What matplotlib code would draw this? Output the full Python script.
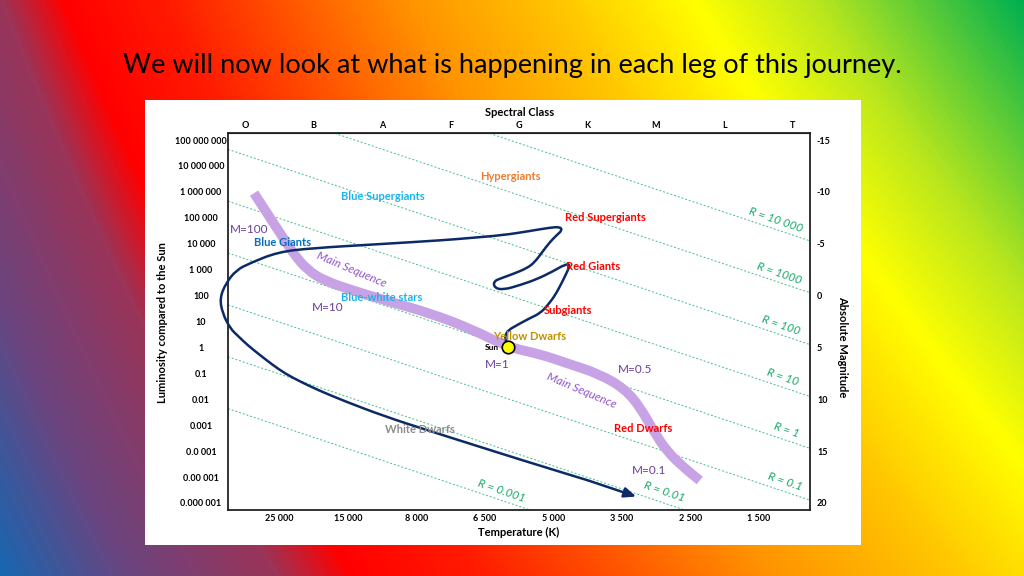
import numpy as np
import matplotlib
matplotlib.use('Agg')
import matplotlib.pyplot as plt
from matplotlib.colors import LinearSegmentedColormap
from matplotlib.patches import Rectangle, PathPatch
from matplotlib.path import Path

plt.rcParams['font.family'] = ['Lato', 'DejaVu Sans']

# --- data (x = spectral-class position, O=0 ... T=8; y = log10 of luminosity / L_sun) ---
spectral_classes = ['O', 'B', 'A', 'F', 'G', 'K', 'M', 'L', 'T']
temp_labels = ['25 000', '15 000', '8 000', '6 500', '5 000', '3 500', '2 500', '1 500']
lum_exponents = list(range(8, -7, -1))
lum_labels = ['100 000 000', '10 000 000', '1 000 000', '100 000', '10 000', '1 000',
              '100', '10', '1', '0.1', '0.01', '0.001', '0.0 001', '0.00 001', '0.000 001']
mag_ticks = [-15, -10, -5, 0, 5, 10, 15, 20]

ms_x = [0.13, 0.32, 0.51, 0.70, 0.91, 1.17, 1.56, 2.04, 2.70, 3.28, 3.84,
        4.31, 4.70, 5.18, 5.55, 5.77, 5.96, 6.16, 6.42, 6.64]
ms_logL = [5.95, 5.18, 4.41, 3.64, 2.98, 2.56, 2.21, 1.82, 1.32, 0.74, 0.01,
           -0.26, -0.61, -1.03, -1.61, -2.31, -3.20, -4.01, -4.66, -5.13]

track_x = [3.84, 3.80, 3.80, 3.84, 3.97, 4.16, 4.31, 4.42, 4.53, 4.63, 4.70, 4.75,
           4.67, 4.50, 4.26, 4.01, 3.77, 3.64, 3.63, 3.74, 3.91, 4.12, 4.23, 4.34,
           4.45, 4.55, 4.63, 4.60, 4.45, 4.16, 3.77, 3.28, 2.92, 1.94, 0.98, 0.48,
           0.07, -0.13, -0.28, -0.37, -0.33, -0.22, -0.10, 0.04, 0.22, 0.39, 0.58,
           0.80, 1.07, 1.46, 2.04, 2.67, 3.40, 4.06, 5.01, 5.71]
track_logL = [0.01, 0.28, 0.47, 0.66, 0.86, 1.13, 1.32, 1.63, 2.02, 2.52, 2.90, 3.20,
              3.20, 2.94, 2.63, 2.40, 2.22, 2.30, 2.55, 2.67, 2.83, 3.06, 3.29, 3.68,
              4.06, 4.33, 4.52, 4.65, 4.62, 4.49, 4.33, 4.22, 4.14, 3.98, 3.83, 3.68,
              3.25, 2.98, 2.48, 1.90, 1.32, 0.74, 0.43, 0.08, -0.30, -0.65, -1.00,
              -1.31, -1.65, -2.08, -2.66, -3.20, -3.81, -4.36, -5.13, -5.75]

radii = [10000, 1000, 100, 10, 1, 0.1, 0.01, 0.001]
radius_text = ['R = 10 000', 'R = 1000', 'R = 100', 'R = 10', 'R = 1', 'R = 0.1', 'R = 0.01', 'R = 0.001']
radius_label_x = [7.75, 7.80, 7.82, 7.85, 7.90, 7.88, 6.12, 3.75]
radius_label_logL = [4.91, 2.86, 0.86, -1.15, -3.20, -5.17, -5.55, -5.51]
radius_logL_at_R1 = 3.64   # log L of the R = 1 line at the left edge
radius_slope = 0.886       # decades per spectral class

region_text = ['Hypergiants', 'Blue Supergiants', 'Red Supergiants', 'Blue Giants',
               'Red Giants', 'Blue-white stars', 'Subgiants', 'Yellow Dwarfs',
               'White Dwarfs', 'Red Dwarfs']
region_x = [3.88, 2.01, 5.26, 0.55, 5.08, 2.00, 4.72, 4.15, 2.55, 5.81]
region_logL = [6.61, 5.84, 5.03, 4.06, 3.14, 1.94, 1.44, 0.43, -3.16, -3.12]
region_color = ['#ED7D31', '#1AB4EC', '#FF0000', '#0070C0', '#FF0000', '#1AB4EC',
                '#FF0000', '#BF9000', '#8C8C8C', '#FF0000']

mass_text = ['M=100', 'M=10', 'M=1', 'M=0.5', 'M=0.1']
mass_x = [0.06, 1.20, 3.68, 5.69, 5.90]
mass_logL = [4.56, 1.55, -0.65, -0.84, -4.74]

ms_label_x = [1.56, 4.92]
ms_label_logL = [3.02, -1.65]

sun_x, sun_logL = 3.84, 0.01


def smooth_path(xs, ys):
    # quadratic Bezier through midpoints, control points = traced points
    pts = np.column_stack([xs, ys])
    verts, codes = [pts[0]], [Path.MOVETO]
    for i in range(1, len(pts) - 1):
        verts += [pts[i], (pts[i] + pts[i + 1]) / 2]
        codes += [Path.CURVE3, Path.CURVE3]
    verts.append(pts[-1])
    codes.append(Path.LINETO)
    return Path(verts, codes)


# --- figure & background ---
W, H = 1024, 576
fig = plt.figure(figsize=(W / 100, H / 100), dpi=100)

bg = fig.add_axes([0, 0, 1, 1])
xx, yy = np.meshgrid(np.linspace(0, 1, W), np.linspace(0, 1, H))
t = xx - 0.22 * yy - 0.18 * xx * yy
stops = [(-0.25, '#0070C0'), (-0.12, '#6A4580'), (0.0, '#9A3458'), (0.06, '#FF0000'),
         (0.16, '#FF1A00'), (0.30, '#FF6000'), (0.40, '#FF9400'), (0.54, '#FFC400'),
         (0.68, '#FFFF00'), (0.80, '#B8E61E'), (1.0, '#00B050')]
cmap = LinearSegmentedColormap.from_list(
    'bg', [((s + 0.25) / 1.25, c) for s, c in stops])
bg.imshow(t, cmap=cmap, vmin=-0.25, vmax=1.0, aspect='auto', extent=[0, W, H, 0])
bg.add_patch(Rectangle((145, 100), 716, 445, facecolor='white', edgecolor='none'))
bg.set_xlim(0, W)
bg.set_ylim(H, 0)
bg.axis('off')

fig.text(512 / W, 1 - 66 / H, 'We will now look at what is happening in each leg of this journey.',
         ha='center', va='center', fontsize=19.5, color='black')

# --- HR diagram ---
ax = fig.add_axes([228 / W, 1 - 510 / H, 582 / W, 377 / H])
ax.set_zorder(2)
ax.set_xlim(-0.25, 8.25)
ax.set_ylim(-6.27, 8.27)

xs = np.array([-0.25, 8.25])
for r in radii:
    ax.plot(xs, radius_logL_at_R1 + 2 * np.log10(r) - radius_slope * (xs + 0.25),
            color='#45BD8A', lw=0.7, ls=(0, (2, 2)), zorder=1)
for txt, x, y in zip(radius_text, radius_label_x, radius_label_logL):
    ax.text(x, y, txt, color='#1BAA6A', fontsize=8.5, style='italic',
            rotation=-19, rotation_mode='anchor', ha='center', va='center')

ax.add_patch(PathPatch(smooth_path(ms_x, ms_logL), fill=False, edgecolor='#C7A3E6',
                       lw=7, capstyle='butt', joinstyle='round', zorder=2))

ax.add_patch(PathPatch(smooth_path(track_x[:-1], track_logL[:-1]), fill=False,
                       edgecolor='#0C2A66', lw=1.8, joinstyle='round', zorder=3,
                       clip_on=False))
ax.annotate('', xy=(track_x[-1], track_logL[-1]),
            xytext=(track_x[-2], track_logL[-2]),
            arrowprops=dict(arrowstyle='-|>,head_length=0.7,head_width=0.3',
                            color='#0C2A66', lw=1.8, shrinkA=0, shrinkB=0), zorder=3)

for txt, x, y, c in zip(region_text, region_x, region_logL, region_color):
    ax.text(x, y, txt, color=c, fontsize=8, fontweight='bold',
            ha='center', va='center', zorder=4)
for txt, x, y in zip(mass_text, mass_x, mass_logL):
    ax.text(x, y, txt, color='#6A3D9A', fontsize=8.5, ha='center', va='center', zorder=4)
for x, y in zip(ms_label_x, ms_label_logL):
    ax.text(x, y, 'Main Sequence', color='#8E55C8', fontsize=8.5, style='italic',
            rotation=-23, rotation_mode='anchor', ha='center', va='center', zorder=4)

ax.plot([sun_x], [sun_logL], 'o', ms=9, mfc='#FFFF00', mec='black', mew=1.2, zorder=5)
ax.text(sun_x - 0.23, sun_logL, 'Sun', fontsize=6, fontweight='bold',
        ha='center', va='center', zorder=5)

for s in ax.spines.values():
    s.set_linewidth(1.3)
    s.set_color('#222222')

ax.set_xticks([i + 0.5 for i in range(len(temp_labels))])
ax.set_xticklabels(temp_labels, fontsize=6.5, fontweight='bold')
ax.set_yticks(lum_exponents)
ax.set_yticklabels(lum_labels, fontsize=6.5, fontweight='bold')
ax.tick_params(axis='x', length=0, pad=3)
ax.tick_params(axis='y', length=0, pad=19.5)
for lab in ax.get_yticklabels():
    lab.set_horizontalalignment('center')

top = ax.secondary_xaxis('top')
top.set_xticks(range(len(spectral_classes)))
top.set_xticklabels(spectral_classes, fontsize=6.5, fontweight='bold')
top.tick_params(length=0, pad=2)

# absolute magnitude: M = 5 - 2.5 log10(L)
ax2 = ax.twinx()
ax2.set_ylim(5 - 2.5 * ax.get_ylim()[0], 5 - 2.5 * ax.get_ylim()[1])
ax2.set_yticks(mag_ticks)
ax2.set_yticklabels([str(m) for m in mag_ticks], fontsize=6.5, fontweight='bold')
ax2.tick_params(length=0, pad=5)
for s in ax2.spines.values():
    s.set_visible(False)

fig.text(520 / W, 1 - 112 / H, 'Spectral Class', ha='center', va='center',
         fontsize=8, fontweight='bold')
fig.text(519 / W, 1 - 532 / H, 'Temperature (K)', ha='center', va='center',
         fontsize=8, fontweight='bold')
fig.text(163 / W, 1 - 323 / H, 'Luminosity compared to the Sun', ha='center', va='center',
         rotation=90, fontsize=8, fontweight='bold')
fig.text(843 / W, 1 - 347 / H, 'Absolute Magnitude', ha='center', va='center',
         rotation=270, fontsize=8, fontweight='bold')

fig.savefig('out.png', dpi=100)
